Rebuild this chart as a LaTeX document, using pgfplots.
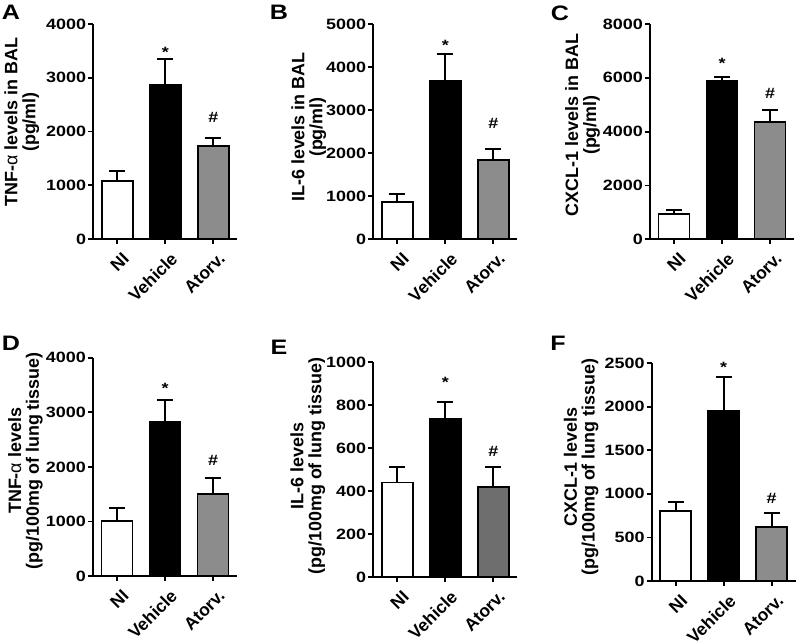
\documentclass[border=0pt]{standalone}
\usepackage{fontspec}
\setmainfont{Liberation Sans}[FakeStretch=1.2]
\newfontfamily\plainfont{Liberation Sans}
\usepackage{pgfplots}
\pgfplotsset{compat=1.18}
\definecolor{barGray}{HTML}{8C8C8C}
\definecolor{barDark}{HTML}{6E6E6E}
\pgfplotsset{
  panel/.style={
    scale only axis, width=144bp,
    axis x line*=bottom, axis y line*=left,
    axis line style={line width=1.8bp, -},
    xmin=-0.5, xmax=2.5, ymin=0, enlargelimits=false,
    xtick={0,1,2}, xticklabels={NI,Vehicle,Atorv.},
    tick align=outside, major tick length=5bp,
    tick style={line width=1.8bp, black},
    xticklabel style={rotate=45, anchor=north east, inner sep=0bp, xshift=-2bp, yshift=-8bp,
      font=\plainfont\bfseries\fontsize{17.5}{17.5}\selectfont},
    yticklabel style={font=\bfseries\fontsize{15}{15}\selectfont, inner sep=2bp},
    /pgf/number format/assume math mode=true,
    /pgf/number format/1000 sep={},
    clip=false,
  },
  ylab/.style n args={3}{every axis y label/.style={at={([xshift=-#2bp,yshift=#3bp]rel axis cs:0,0.5)},
      rotate=90, anchor=south, inner sep=0pt,
      align=center, font=\plainfont\bfseries\fontsize{18}{18}\selectfont}, ylabel={#1}},
  bars/.style={ybar, bar width=31bp, bar shift=0pt, draw=black, line width=1.8bp,
    /pgfplots/error bars/y dir=plus, /pgfplots/error bars/y explicit,
    /pgfplots/error bars/error bar style={line width=1.8bp, black},
    /pgfplots/error bars/error mark options={rotate=90, mark size=8bp, line width=1.8bp, black}},
}
\tikzset{
  sigstar/.style={anchor=north, inner sep=0pt, font=\bfseries\fontsize{15}{15}\selectfont},
  sighash/.style={anchor=center, inner sep=0pt, font=\bfseries\fontsize{15}{15}\selectfont},
}
\begin{document}
\begin{tikzpicture}
\useasboundingbox (0,0) rectangle (800bp,-644bp);
% ---------- A
\begin{axis}[panel, at={(93.3bp,-239bp)}, anchor=south west, height=215bp,
  ymax=4000, ytick={0,1000,2000,3000,4000},
  ylab={TNF-{\mdseries α} levels in BAL\\(pg/ml)}{54}{9.5}]
\addplot[bars, fill=white] coordinates {(0,1080) +- (0,185)};
\addplot[bars, fill=black] coordinates {(1,2865) +- (0,478)};
\addplot[bars, fill=barGray] coordinates {(2,1736) +- (0,137)};
\node[sigstar] at (axis cs:1,3572) {*};
\node[sighash] at (axis cs:2,2260) {\#};
\end{axis}
% ---------- B
\begin{axis}[panel, at={(373.3bp,-239.3bp)}, anchor=south west, height=215.3bp,
  ymax=5000, ytick={0,1000,2000,3000,4000,5000},
  ylab={IL-6 levels in BAL\\(pg/ml)}{47}{4.6}]
\addplot[bars, fill=white] coordinates {(0,860) +- (0,193)};
\addplot[bars, fill=black] coordinates {(1,3677) +- (0,619)};
\addplot[bars, fill=barGray] coordinates {(2,1834) +- (0,264)};
\node[sigstar] at (axis cs:1,4628) {*};
\node[sighash] at (axis cs:2,2689) {\#};
\end{axis}
% ---------- C
\begin{axis}[panel, at={(650bp,-239.3bp)}, anchor=south west, height=215.3bp,
  ymax=8000, ytick={0,2000,4000,6000,8000},
  ylab={CXCL-1 levels in BAL\\(pg/ml)}{50}{6.6}]
\addplot[bars, fill=white] coordinates {(0,941) +- (0,136)};
\addplot[bars, fill=black] coordinates {(1,5882) +- (0,161)};
\addplot[bars, fill=barGray] coordinates {(2,4347) +- (0,470)};
\node[sigstar] at (axis cs:1,6737) {*};
\node[sighash] at (axis cs:2,5436) {\#};
\end{axis}
% ---------- D
\begin{axis}[panel, at={(93bp,-576bp)}, anchor=south west, height=218.3bp,
  ymax=4000, ytick={0,1000,2000,3000,4000},
  ylab={TNF-{\mdseries α} levels\\(pg/100mg of lung tissue)}{50}{6}]
\addplot[bars, fill=white] coordinates {(0,1005) +- (0,235)};
\addplot[bars, fill=black] coordinates {(1,2828) +- (0,404)};
\addplot[bars, fill=barGray] coordinates {(2,1503) +- (0,299)};
\node[sigstar] at (axis cs:1,3536) {*};
\node[sighash] at (axis cs:2,2125) {\#};
\end{axis}
% ---------- E
\begin{axis}[panel, at={(373.3bp,-577bp)}, anchor=south west, height=215bp,
  ymax=1000, ytick={0,200,400,600,800,1000},
  ylab={IL-6 levels\\(pg/100mg of lung tissue)}{48}{3.5}]
\addplot[bars, fill=white] coordinates {(0,440) +- (0,73)};
\addplot[bars, fill=black] coordinates {(1,734) +- (0,81)};
\addplot[bars, fill=barDark] coordinates {(2,417) +- (0,96)};
\node[sigstar] at (axis cs:1,930) {*};
\node[sighash] at (axis cs:2,586) {\#};
\end{axis}
% ---------- F
\begin{axis}[panel, at={(651.7bp,-581bp)}, anchor=south west, height=218bp,
  ymax=2500, ytick={0,500,1000,1500,2000,2500},
  ylab={CXCL-1 levels\\(pg/100mg of lung tissue)}{53}{5}]
\addplot[bars, fill=white] coordinates {(0,807) +- (0,99)};
\addplot[bars, fill=black] coordinates {(1,1954) +- (0,386)};
\addplot[bars, fill=barGray] coordinates {(2,623) +- (0,157)};
\node[sigstar] at (axis cs:1,2511) {*};
\node[sighash] at (axis cs:2,952) {\#};
\end{axis}
% panel letters
\begin{scope}[every node/.style={font=\bfseries\fontsize{21}{21}\selectfont}]
\node at (11bp,-12bp) {A};
\node at (279bp,-12bp) {B};
\node at (560bp,-13bp) {C};
\node at (11bp,-343bp) {D};
\node at (279bp,-347bp) {E};
\node at (558bp,-343bp) {F};
\end{scope}
\end{tikzpicture}
\end{document}
